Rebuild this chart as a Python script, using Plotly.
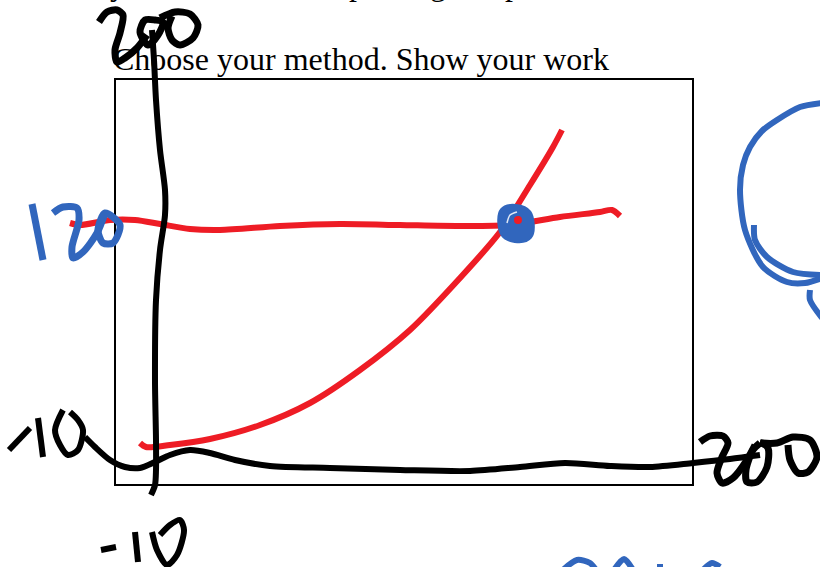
import plotly.graph_objects as go

BLACK = "#000000"
RED = "#ee1c25"
BLUE = "#3166bd"

heading = "Choose your method. Show your work"
clipped_letters = ["y", "p", "g", "p"]
clipped_x = [118, 357, 438, 513]

box_x = [115, 693]
box_y = [79, 485]

# Hand-drawn strokes (x, y pairs)
axis_v_x = [152, 154, 156, 160, 165, 165, 160, 156, 155, 156, 156, 155, 151]
axis_v_y = [30, 60, 100, 150, 190, 215, 250, 300, 380, 440, 470, 485, 495]
axis_h_x = [85, 95, 110, 125, 140, 155, 170, 190, 210, 235, 270, 330, 400, 470, 520, 565, 610, 650, 693, 730, 760]
axis_h_y = [437, 447, 460, 467, 468, 462, 455, 450, 453, 460, 466, 468, 470, 471, 467, 463, 466, 467, 463, 459, 455]

top2_x = [99, 107, 117, 123, 120, 115, 117, 125, 137, 147]
top2_y = [22, 12, 10, 15, 33, 50, 62, 58, 48, 35]
top0a_x = [145, 140, 148, 158, 163, 155, 145]
top0a_y = [20, 32, 45, 35, 22, 20, 20]
top0b_x = [160, 175, 190, 198, 193, 180, 172, 168, 172]
top0b_y = [18, 12, 14, 25, 38, 45, 40, 28, 16]

right7_x = [700, 710, 723, 728, 722, 717, 722, 733, 745, 755]
right7_y = [442, 436, 436, 443, 457, 473, 483, 478, 463, 445]
right0a_x = [760, 768, 767, 757, 747, 746, 753, 760]
right0a_y = [442, 448, 467, 482, 482, 470, 450, 443]
right0b_x = [760, 777, 793, 810, 817, 808, 798, 790, 788]
right0b_y = [443, 443, 437, 440, 457, 472, 473, 460, 445]

left10_dash_x = [9, 30]
left10_dash_y = [450, 428]
left10_one_x = [38, 43]
left10_one_y = [418, 457]
left10_zero_x = [63, 55, 60, 68, 78, 83, 78, 70]
left10_zero_y = [410, 430, 445, 455, 450, 430, 420, 412]

bottom10_dash_x = [101, 116]
bottom10_dash_y = [550, 547]
bottom10_one_x = [135, 138]
bottom10_one_y = [532, 562]
bottom10_zero_x = [152, 157, 167, 177, 184, 180, 170, 160]
bottom10_zero_y = [532, 550, 565, 555, 530, 520, 525, 535]

red_flat_x = [70, 80, 110, 135, 160, 190, 220, 280, 340, 400, 460, 510, 560, 600, 612, 620]
red_flat_y = [223, 225, 220, 220, 224, 229, 230, 226, 224, 225, 226, 225, 217, 212, 210, 216]
red_curve_x = [140, 146, 170, 210, 260, 310, 360, 410, 460, 500, 530, 553, 562]
red_curve_y = [443, 447, 445, 439, 425, 403, 370, 330, 278, 232, 185, 147, 130]

label120_one_x = [32, 43]
label120_one_y = [204, 260]
label120_two_x = [53, 63, 77, 79, 72, 73, 83, 97, 105]
label120_two_y = [213, 207, 208, 220, 247, 258, 252, 233, 213]
label120_zero_x = [105, 120, 113, 103, 98, 105]
label120_zero_y = [213, 225, 243, 243, 230, 213]

dot_x = [508, 515, 523, 524, 516, 509, 508]
dot_y = [215, 214, 217, 232, 233, 230, 215]
dot_core_x = [518]
dot_core_y = [220]
glint_x = [507, 510, 517]
glint_y = [223, 215, 212]

loop_outer_x = [822, 800, 777, 762, 750, 743, 740, 745, 763, 787, 805, 822]
loop_outer_y = [103, 107, 120, 131, 147, 165, 190, 230, 267, 282, 283, 278]
loop_inner_x = [754, 755, 767, 793, 822]
loop_inner_y = [225, 240, 257, 272, 275]
loop_tail_x = [810, 810, 822]
loop_tail_y = [290, 300, 318]

bottom_a_x = [563, 577, 590, 596]
bottom_a_y = [570, 560, 563, 570]
bottom_b_x = [614, 624, 633]
bottom_b_y = [570, 559, 570]
bottom_c_x = [660, 660]
bottom_c_y = [564, 570]
bottom_d_x = [703, 712, 720]
bottom_d_y = [570, 563, 567]

strokes = [
    (red_flat_x, red_flat_y, RED, 6),
    (red_curve_x, red_curve_y, RED, 6),
    (axis_v_x, axis_v_y, BLACK, 6),
    (axis_h_x, axis_h_y, BLACK, 6),
    (top2_x, top2_y, BLACK, 7),
    (top0a_x, top0a_y, BLACK, 7),
    (top0b_x, top0b_y, BLACK, 7),
    (right7_x, right7_y, BLACK, 7),
    (right0a_x, right0a_y, BLACK, 7),
    (right0b_x, right0b_y, BLACK, 7),
    (left10_dash_x, left10_dash_y, BLACK, 6),
    (left10_one_x, left10_one_y, BLACK, 6),
    (left10_zero_x, left10_zero_y, BLACK, 6),
    (bottom10_dash_x, bottom10_dash_y, BLACK, 6),
    (bottom10_one_x, bottom10_one_y, BLACK, 6),
    (bottom10_zero_x, bottom10_zero_y, BLACK, 6),
    (label120_one_x, label120_one_y, BLUE, 7),
    (label120_two_x, label120_two_y, BLUE, 7),
    (label120_zero_x, label120_zero_y, BLUE, 7),
    (loop_outer_x, loop_outer_y, BLUE, 6),
    (loop_inner_x, loop_inner_y, BLUE, 6),
    (loop_tail_x, loop_tail_y, BLUE, 6),
    (bottom_a_x, bottom_a_y, BLUE, 6),
    (bottom_b_x, bottom_b_y, BLUE, 6),
    (bottom_c_x, bottom_c_y, BLUE, 6),
    (bottom_d_x, bottom_d_y, BLUE, 6),
    (dot_x, dot_y, BLUE, 20),
    (glint_x, glint_y, "#dfe7f5", 1.5),
]

fig = go.Figure()
for xs, ys, color, width in strokes:
    fig.add_trace(go.Scatter(
        x=xs, y=ys, mode="lines",
        line=dict(color=color, width=width, shape="spline", smoothing=0.8),
        hoverinfo="skip", showlegend=False,
    ))
fig.add_trace(go.Scatter(
    x=dot_core_x, y=dot_core_y, mode="markers",
    marker=dict(color=RED, size=8),
    hoverinfo="skip", showlegend=False,
))

annotations = [dict(
    x=115, y=60, text=heading, showarrow=False, xanchor="left", yanchor="middle",
    xshift=-4, yshift=1, font=dict(family="Liberation Serif", size=32, color=BLACK),
)]
for letter, lx in zip(clipped_letters, clipped_x):
    annotations.append(dict(
        x=lx, xref="x", y=1 + 16 / 567, yref="paper", text=letter, showarrow=False,
        xanchor="center", yanchor="middle",
        font=dict(family="Liberation Serif", size=32, color=BLACK),
    ))

axis_style = dict(showgrid=False, zeroline=False, showticklabels=False, ticks="", showline=False)
fig.update_layout(
    width=820, height=567, autosize=False,
    margin=dict(l=0, r=0, t=0, b=0),
    paper_bgcolor="white", plot_bgcolor="white",
    showlegend=False, annotations=annotations,
    xaxis=dict(range=[0, 820], **axis_style),
    yaxis=dict(range=[567, 0], **axis_style),
    shapes=[dict(
        type="rect", xref="x", yref="y", x0=box_x[0], x1=box_x[1], y0=box_y[0], y1=box_y[1],
        line=dict(color=BLACK, width=2), layer="below",
    )],
)
fig.write_html(
    "out.html",
    config={"displayModeBar": False},
    post_script="document.body.style.margin='0';document.documentElement.style.overflow='hidden';",
)
